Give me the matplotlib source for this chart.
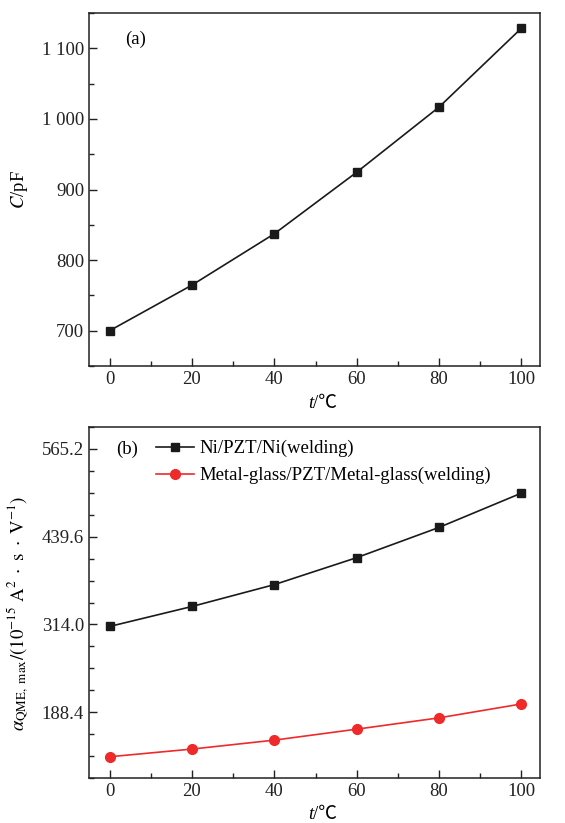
import matplotlib
matplotlib.use("Agg")
import matplotlib.pyplot as plt
from matplotlib.ticker import FixedLocator, MultipleLocator, FixedFormatter

plt.rcParams['font.family'] = ['Liberation Serif', 'Noto Sans CJK SC', 'DejaVu Sans']
plt.rcParams['mathtext.fontset'] = 'stix'

# ---- data ----
temps = [0, 20, 40, 60, 80, 100]
capacitance = [700, 764.6, 837.3, 924.5, 1016.8, 1128.5]
alpha_ni = [311.1, 339.7, 371.0, 409.6, 452.9, 502.0]
alpha_mg = [124.6, 135.6, 148.4, 164.1, 180.3, 200.2]
label_ni = 'Ni/PZT/Ni(welding)'
label_mg = 'Metal-glass/PZT/Metal-glass(welding)'

x_ticks = [0, 20, 40, 60, 80, 100]
c_ticks = [700, 800, 900, 1000, 1100]
c_tick_labels = ['700', '800', '900', '1 000', '1 100']
a_ticks = [188.4, 314.0, 439.6, 565.2]
a_tick_labels = ['188.4', '314.0', '439.6', '565.2']

W, H = 565, 823
fig = plt.figure(figsize=(W / 100, H / 100), dpi=100)

def box(l, t, r, b):
    return [l / W, 1 - b / H, (r - l) / W, (b - t) / H]

ax1 = fig.add_axes(box(89, 13, 540, 366))
ax2 = fig.add_axes(box(89, 427, 540, 778))

fs = 13.5
dark = '#1a1a1a'
red = '#ee2a2a'

def xlabel(ax, ypos):
    ax.text(0.497, ypos, 't', transform=ax.transAxes, fontsize=fs, style='italic',
            ha='right', va='center', family=['Liberation Serif'])
    ax.text(0.497, ypos, '/℃', transform=ax.transAxes, fontsize=fs,
            ha='left', va='center', family=['Liberation Serif', 'Noto Sans CJK SC', 'DejaVu Sans'])

for ax in (ax1, ax2):
    for s in ax.spines.values():
        s.set_linewidth(1.1)
        s.set_color('#222222')
    ax.tick_params(which='both', direction='in', top=False, right=False,
                   labelsize=fs, colors='#222222', width=1.0)
    ax.tick_params(which='major', length=6)
    ax.tick_params(which='minor', length=3.5)
    ax.set_xlim(-5, 104.5)
    ax.xaxis.set_major_locator(FixedLocator(x_ticks))
    ax.xaxis.set_minor_locator(MultipleLocator(10))

xlabel(ax1, -0.105)
xlabel(ax2, -0.105)

# top panel
ax1.plot(temps, capacitance, color=dark, lw=1.2, marker='s', ms=6, mfc=dark, mec=dark)
ax1.set_ylim(650, 1150)
ax1.yaxis.set_major_locator(FixedLocator(c_ticks))
ax1.yaxis.set_major_formatter(FixedFormatter(c_tick_labels))
ax1.yaxis.set_minor_locator(MultipleLocator(50))
ax1.set_ylabel(r'$C$/pF', fontsize=fs)
ax1.yaxis.set_label_coords(-0.13, 0.5)
ax1.text(0.08, 0.925, '(a)', transform=ax1.transAxes, fontsize=fs, va='center')

# bottom panel
ax2.plot(temps, alpha_ni, color=dark, lw=1.2, marker='s', ms=6, mfc=dark, mec=dark, label=label_ni)
ax2.plot(temps, alpha_mg, color=red, lw=1.2, marker='o', ms=7, mfc=red, mec=red, label=label_mg)
ax2.set_ylim(94.2, 596.6)
ax2.yaxis.set_major_locator(FixedLocator(a_ticks))
ax2.yaxis.set_major_formatter(FixedFormatter(a_tick_labels))
ax2.yaxis.set_minor_locator(MultipleLocator(31.4))
ax2.set_ylabel(r'$\alpha_{\mathrm{QME,\ max}}/(10^{-15}\ \mathrm{A}^{2}\ \cdot\ \mathrm{s}\ \cdot\ \mathrm{V}^{-1})$',
               fontsize=fs)
ax2.yaxis.set_label_coords(-0.13, 0.47)
ax2.text(0.06, 0.937, '(b)', transform=ax2.transAxes, fontsize=fs, va='center')
ax2.legend(loc='upper left', bbox_to_anchor=(0.12, 1.0), frameon=False, fontsize=fs,
           handlelength=2.0, handletextpad=0.3, labelspacing=0.5, borderaxespad=0.3)

fig.savefig('out.png', dpi=100)
